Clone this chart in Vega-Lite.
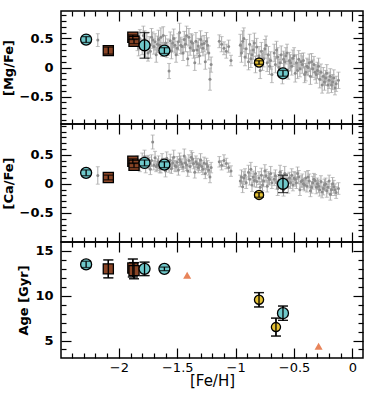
{
  "$schema": "https://vega.github.io/schema/vega-lite/v6.json",
  "padding": {"left": 1, "top": 9, "right": 4, "bottom": 2},
  "background": "white",
  "spacing": 0,
  "bounds": "flush",
  "config": {
    "view": {"stroke": "black", "strokeWidth": 1.5},
    "font": "DejaVu Sans",
    "axis": {"grid": false, "domain": false, "tickColor": "black", "tickWidth": 1.2, "labelColor": "black", "titleColor": "black", "zindex": 1, "labelFont": "DejaVu Sans", "titleFont": "DejaVu Sans"}
  },
  "datasets": {
    "stars": [
      {"fe": -2.18, "mg": 0.47, "emg": 0.11, "ca": 0.145, "eca": 0.15},
      {"fe": -1.84, "mg": 0.42, "emg": 0.13, "ca": 0.38, "eca": 0.10},
      {"fe": -1.83, "mg": 0.33, "emg": 0.13, "ca": 0.33, "eca": 0.10},
      {"fe": -1.82, "mg": 0.50, "emg": 0.15, "ca": 0.30, "eca": 0.09},
      {"fe": -1.80, "mg": 0.35, "emg": 0.13, "ca": 0.42, "eca": 0.11},
      {"fe": -1.79, "mg": 0.55, "emg": 0.16, "ca": 0.34, "eca": 0.08},
      {"fe": -1.78, "mg": 0.48, "emg": 0.15, "ca": 0.47, "eca": 0.11},
      {"fe": -1.77, "mg": 0.30, "emg": 0.12, "ca": 0.28, "eca": 0.09},
      {"fe": -1.76, "mg": 0.45, "emg": 0.14, "ca": 0.37, "eca": 0.10},
      {"fe": -1.75, "mg": 0.25, "emg": 0.14, "ca": 0.39, "eca": 0.10},
      {"fe": -1.74, "mg": 0.40, "emg": 0.13, "ca": 0.36, "eca": 0.10},
      {"fe": -1.73, "mg": 0.28, "emg": 0.12, "ca": 0.25, "eca": 0.09},
      {"fe": -1.72, "mg": 0.52, "emg": 0.15, "ca": 0.40, "eca": 0.10},
      {"fe": -1.71, "mg": 0.47, "emg": 0.14, "ca": 0.72, "eca": 0.12},
      {"fe": -1.70, "mg": 0.36, "emg": 0.13, "ca": 0.32, "eca": 0.08},
      {"fe": -1.69, "mg": 0.44, "emg": 0.14, "ca": 0.45, "eca": 0.11},
      {"fe": -1.68, "mg": 0.22, "emg": 0.13, "ca": 0.30, "eca": 0.09},
      {"fe": -1.67, "mg": 0.40, "emg": 0.14, "ca": 0.33, "eca": 0.10},
      {"fe": -1.66, "mg": 0.48, "emg": 0.16, "ca": 0.38, "eca": 0.10},
      {"fe": -1.65, "mg": 0.38, "emg": 0.13, "ca": 0.27, "eca": 0.08},
      {"fe": -1.64, "mg": 0.52, "emg": 0.16, "ca": 0.28, "eca": 0.09},
      {"fe": -1.63, "mg": 0.31, "emg": 0.12, "ca": 0.42, "eca": 0.10},
      {"fe": -1.62, "mg": 0.55, "emg": 0.15, "ca": 0.35, "eca": 0.09},
      {"fe": -1.60, "mg": 0.42, "emg": 0.13, "ca": 0.22, "eca": 0.10},
      {"fe": -1.59, "mg": 0.30, "emg": 0.13, "ca": 0.44, "eca": 0.11},
      {"fe": -1.58, "mg": 0.35, "emg": 0.14, "ca": 0.33, "eca": 0.09},
      {"fe": -1.57, "mg": -0.06, "emg": 0.13, "ca": 0.30, "eca": 0.10},
      {"fe": -1.56, "mg": 0.46, "emg": 0.15, "ca": 0.40, "eca": 0.11},
      {"fe": -1.55, "mg": 0.28, "emg": 0.13, "ca": 0.26, "eca": 0.08},
      {"fe": -1.54, "mg": 0.42, "emg": 0.14, "ca": 0.36, "eca": 0.10},
      {"fe": -1.53, "mg": 0.50, "emg": 0.16, "ca": 0.46, "eca": 0.12},
      {"fe": -1.52, "mg": 0.38, "emg": 0.13, "ca": 0.31, "eca": 0.09},
      {"fe": -1.51, "mg": 0.22, "emg": 0.13, "ca": 0.30, "eca": 0.09},
      {"fe": -1.50, "mg": 0.33, "emg": 0.12, "ca": 0.37, "eca": 0.10},
      {"fe": -1.49, "mg": 0.44, "emg": 0.14, "ca": 0.24, "eca": 0.09},
      {"fe": -1.48, "mg": 0.60, "emg": 0.16, "ca": 0.42, "eca": 0.11},
      {"fe": -1.47, "mg": 0.38, "emg": 0.14, "ca": 0.38, "eca": 0.10},
      {"fe": -1.46, "mg": 0.36, "emg": 0.13, "ca": 0.34, "eca": 0.09},
      {"fe": -1.45, "mg": 0.25, "emg": 0.13, "ca": 0.29, "eca": 0.08},
      {"fe": -1.44, "mg": 0.48, "emg": 0.14, "ca": 0.48, "eca": 0.12},
      {"fe": -1.43, "mg": 0.40, "emg": 0.13, "ca": 0.36, "eca": 0.10},
      {"fe": -1.42, "mg": 0.55, "emg": 0.16, "ca": 0.33, "eca": 0.10},
      {"fe": -1.41, "mg": 0.15, "emg": 0.12, "ca": 0.22, "eca": 0.09},
      {"fe": -1.40, "mg": 0.52, "emg": 0.15, "ca": 0.40, "eca": 0.10},
      {"fe": -1.39, "mg": 0.34, "emg": 0.13, "ca": 0.30, "eca": 0.10},
      {"fe": -1.38, "mg": 0.44, "emg": 0.14, "ca": 0.46, "eca": 0.11},
      {"fe": -1.37, "mg": 0.42, "emg": 0.14, "ca": 0.43, "eca": 0.11},
      {"fe": -1.36, "mg": 0.29, "emg": 0.13, "ca": 0.35, "eca": 0.09},
      {"fe": -1.35, "mg": 0.08, "emg": 0.13, "ca": 0.20, "eca": 0.10},
      {"fe": -1.34, "mg": 0.45, "emg": 0.15, "ca": 0.38, "eca": 0.10},
      {"fe": -1.33, "mg": 0.30, "emg": 0.13, "ca": 0.34, "eca": 0.10},
      {"fe": -1.32, "mg": 0.37, "emg": 0.13, "ca": 0.28, "eca": 0.09},
      {"fe": -1.31, "mg": 0.20, "emg": 0.14, "ca": 0.33, "eca": 0.10},
      {"fe": -1.30, "mg": 0.48, "emg": 0.15, "ca": 0.41, "eca": 0.11},
      {"fe": -1.29, "mg": 0.40, "emg": 0.14, "ca": 0.30, "eca": 0.10},
      {"fe": -1.28, "mg": 0.33, "emg": 0.13, "ca": 0.25, "eca": 0.09},
      {"fe": -1.27, "mg": 0.41, "emg": 0.14, "ca": 0.36, "eca": 0.10},
      {"fe": -1.26, "mg": 0.10, "emg": 0.13, "ca": 0.18, "eca": 0.09},
      {"fe": -1.25, "mg": 0.45, "emg": 0.15, "ca": 0.34, "eca": 0.10},
      {"fe": -1.24, "mg": 0.38, "emg": 0.13, "ca": 0.30, "eca": 0.10},
      {"fe": -1.23, "mg": 0.25, "emg": 0.12, "ca": 0.24, "eca": 0.09},
      {"fe": -1.22, "mg": -0.20, "emg": 0.19, "ca": 0.12, "eca": 0.10},
      {"fe": -1.21, "mg": 0.05, "emg": 0.13, "ca": 0.28, "eca": 0.09},
      {"fe": -1.14, "mg": 0.45, "emg": 0.11, "ca": 0.38, "eca": 0.09},
      {"fe": -1.12, "mg": 0.40, "emg": 0.13, "ca": 0.32, "eca": 0.08},
      {"fe": -1.10, "mg": 0.33, "emg": 0.11, "ca": 0.40, "eca": 0.10},
      {"fe": -1.08, "mg": 0.28, "emg": 0.12, "ca": 0.35, "eca": 0.09},
      {"fe": -1.06, "mg": 0.36, "emg": 0.11, "ca": 0.28, "eca": 0.08},
      {"fe": -1.04, "mg": 0.12, "emg": 0.09, "ca": 0.22, "eca": 0.09},
      {"fe": -0.96, "mg": 0.38, "emg": 0.19, "ca": 0.05, "eca": 0.10},
      {"fe": -0.95, "mg": 0.25, "emg": 0.16, "ca": 0.12, "eca": 0.12},
      {"fe": -0.94, "mg": 0.45, "emg": 0.18, "ca": -0.05, "eca": 0.10},
      {"fe": -0.93, "mg": 0.50, "emg": 0.18, "ca": 0.10, "eca": 0.11},
      {"fe": -0.92, "mg": 0.18, "emg": 0.15, "ca": 0.15, "eca": 0.11},
      {"fe": -0.91, "mg": 0.32, "emg": 0.16, "ca": 0.02, "eca": 0.10},
      {"fe": -0.89, "mg": 0.10, "emg": 0.14, "ca": 0.20, "eca": 0.12},
      {"fe": -0.88, "mg": 0.40, "emg": 0.17, "ca": 0.08, "eca": 0.10},
      {"fe": -0.87, "mg": 0.15, "emg": 0.15, "ca": 0.25, "eca": 0.12},
      {"fe": -0.86, "mg": 0.22, "emg": 0.15, "ca": -0.02, "eca": 0.11},
      {"fe": -0.85, "mg": 0.30, "emg": 0.16, "ca": 0.12, "eca": 0.10},
      {"fe": -0.84, "mg": 0.42, "emg": 0.17, "ca": 0.06, "eca": 0.11},
      {"fe": -0.83, "mg": 0.05, "emg": 0.14, "ca": 0.18, "eca": 0.12},
      {"fe": -0.82, "mg": 0.35, "emg": 0.15, "ca": 0.04, "eca": 0.10},
      {"fe": -0.80, "mg": 0.20, "emg": 0.16, "ca": 0.10, "eca": 0.11},
      {"fe": -0.79, "mg": -0.05, "emg": 0.14, "ca": -0.06, "eca": 0.10},
      {"fe": -0.78, "mg": 0.28, "emg": 0.15, "ca": 0.15, "eca": 0.12},
      {"fe": -0.77, "mg": 0.10, "emg": 0.15, "ca": -0.02, "eca": 0.10},
      {"fe": -0.76, "mg": 0.15, "emg": 0.14, "ca": 0.05, "eca": 0.10},
      {"fe": -0.75, "mg": 0.32, "emg": 0.16, "ca": 0.22, "eca": 0.11},
      {"fe": -0.74, "mg": 0.38, "emg": 0.16, "ca": 0.14, "eca": 0.11},
      {"fe": -0.73, "mg": 0.08, "emg": 0.15, "ca": -0.04, "eca": 0.10},
      {"fe": -0.72, "mg": 0.22, "emg": 0.14, "ca": 0.10, "eca": 0.11},
      {"fe": -0.71, "mg": 0.02, "emg": 0.14, "ca": 0.08, "eca": 0.10},
      {"fe": -0.70, "mg": 0.12, "emg": 0.15, "ca": 0.18, "eca": 0.12},
      {"fe": -0.69, "mg": -0.12, "emg": 0.14, "ca": 0.02, "eca": 0.10},
      {"fe": -0.67, "mg": 0.25, "emg": 0.15, "ca": 0.08, "eca": 0.11},
      {"fe": -0.66, "mg": 0.05, "emg": 0.14, "ca": 0.14, "eca": 0.10},
      {"fe": -0.65, "mg": 0.30, "emg": 0.15, "ca": 0.02, "eca": 0.11},
      {"fe": -0.64, "mg": 0.18, "emg": 0.16, "ca": -0.08, "eca": 0.12},
      {"fe": -0.63, "mg": 0.00, "emg": 0.14, "ca": 0.06, "eca": 0.10},
      {"fe": -0.62, "mg": 0.08, "emg": 0.14, "ca": 0.20, "eca": 0.12},
      {"fe": -0.61, "mg": 0.22, "emg": 0.15, "ca": 0.12, "eca": 0.11},
      {"fe": -0.60, "mg": -0.15, "emg": 0.13, "ca": 0.00, "eca": 0.10},
      {"fe": -0.59, "mg": 0.14, "emg": 0.14, "ca": -0.10, "eca": 0.11},
      {"fe": -0.58, "mg": 0.10, "emg": 0.15, "ca": 0.18, "eca": 0.12},
      {"fe": -0.57, "mg": 0.20, "emg": 0.14, "ca": 0.05, "eca": 0.10},
      {"fe": -0.56, "mg": 0.25, "emg": 0.15, "ca": 0.08, "eca": 0.10},
      {"fe": -0.55, "mg": -0.05, "emg": 0.15, "ca": -0.05, "eca": 0.11},
      {"fe": -0.54, "mg": 0.12, "emg": 0.14, "ca": 0.10, "eca": 0.10},
      {"fe": -0.53, "mg": 0.08, "emg": 0.14, "ca": 0.02, "eca": 0.10},
      {"fe": -0.52, "mg": 0.02, "emg": 0.15, "ca": 0.15, "eca": 0.11},
      {"fe": -0.51, "mg": 0.16, "emg": 0.14, "ca": -0.02, "eca": 0.10},
      {"fe": -0.50, "mg": 0.20, "emg": 0.14, "ca": 0.10, "eca": 0.11},
      {"fe": -0.49, "mg": -0.10, "emg": 0.15, "ca": 0.08, "eca": 0.12},
      {"fe": -0.48, "mg": 0.08, "emg": 0.14, "ca": 0.02, "eca": 0.10},
      {"fe": -0.47, "mg": -0.05, "emg": 0.14, "ca": 0.18, "eca": 0.11},
      {"fe": -0.46, "mg": 0.14, "emg": 0.15, "ca": 0.12, "eca": 0.11},
      {"fe": -0.45, "mg": -0.02, "emg": 0.14, "ca": -0.10, "eca": 0.10},
      {"fe": -0.44, "mg": 0.10, "emg": 0.14, "ca": 0.04, "eca": 0.10},
      {"fe": -0.43, "mg": 0.05, "emg": 0.15, "ca": 0.06, "eca": 0.11},
      {"fe": -0.42, "mg": 0.12, "emg": 0.13, "ca": 0.00, "eca": 0.10},
      {"fe": -0.41, "mg": -0.12, "emg": 0.14, "ca": -0.02, "eca": 0.10},
      {"fe": -0.40, "mg": -0.08, "emg": 0.15, "ca": 0.10, "eca": 0.11},
      {"fe": -0.39, "mg": 0.02, "emg": 0.14, "ca": -0.04, "eca": 0.10},
      {"fe": -0.38, "mg": 0.00, "emg": 0.14, "ca": 0.12, "eca": 0.11},
      {"fe": -0.37, "mg": 0.08, "emg": 0.15, "ca": 0.05, "eca": 0.12},
      {"fe": -0.36, "mg": -0.15, "emg": 0.14, "ca": -0.12, "eca": 0.10},
      {"fe": -0.35, "mg": 0.10, "emg": 0.14, "ca": -0.06, "eca": 0.10},
      {"fe": -0.34, "mg": -0.02, "emg": 0.15, "ca": 0.02, "eca": 0.11},
      {"fe": -0.33, "mg": 0.05, "emg": 0.14, "ca": 0.08, "eca": 0.10},
      {"fe": -0.32, "mg": -0.08, "emg": 0.13, "ca": 0.06, "eca": 0.10},
      {"fe": -0.31, "mg": -0.12, "emg": 0.15, "ca": -0.06, "eca": 0.11},
      {"fe": -0.30, "mg": -0.05, "emg": 0.14, "ca": 0.00, "eca": 0.10},
      {"fe": -0.29, "mg": 0.02, "emg": 0.14, "ca": -0.04, "eca": 0.11},
      {"fe": -0.28, "mg": -0.20, "emg": 0.15, "ca": -0.10, "eca": 0.11},
      {"fe": -0.27, "mg": -0.08, "emg": 0.14, "ca": 0.04, "eca": 0.10},
      {"fe": -0.26, "mg": -0.30, "emg": 0.14, "ca": -0.14, "eca": 0.10},
      {"fe": -0.25, "mg": -0.15, "emg": 0.15, "ca": -0.08, "eca": 0.11},
      {"fe": -0.24, "mg": -0.25, "emg": 0.14, "ca": -0.02, "eca": 0.10},
      {"fe": -0.23, "mg": -0.18, "emg": 0.13, "ca": 0.00, "eca": 0.10},
      {"fe": -0.22, "mg": -0.10, "emg": 0.15, "ca": -0.12, "eca": 0.11},
      {"fe": -0.21, "mg": -0.30, "emg": 0.14, "ca": -0.06, "eca": 0.10},
      {"fe": -0.20, "mg": -0.22, "emg": 0.14, "ca": 0.05, "eca": 0.10},
      {"fe": -0.19, "mg": -0.15, "emg": 0.13, "ca": -0.18, "eca": 0.10},
      {"fe": -0.18, "mg": -0.30, "emg": 0.13, "ca": -0.10, "eca": 0.10},
      {"fe": -0.17, "mg": -0.25, "emg": 0.13, "ca": 0.00, "eca": 0.11},
      {"fe": -0.16, "mg": -0.18, "emg": 0.14, "ca": -0.05, "eca": 0.11},
      {"fe": -0.15, "mg": -0.35, "emg": 0.12, "ca": -0.10, "eca": 0.10},
      {"fe": -0.14, "mg": -0.28, "emg": 0.13, "ca": -0.15, "eca": 0.10},
      {"fe": -0.12, "mg": -0.22, "emg": 0.14, "ca": -0.08, "eca": 0.10}
    ],
    "hl": [
      {"kind": "cyan", "fe": -2.28, "mg": 0.48, "emg": 0.05, "ca": 0.19, "eca": 0.05, "age": 13.5, "eage": 0.35},
      {"kind": "brown", "fe": -2.09, "mg": 0.29, "emg": 0.06, "ca": 0.11, "eca": 0.04, "age": 13.0, "eage": 1.0},
      {"kind": "brown", "fe": -1.88, "mg": 0.52, "emg": 0.04, "ca": 0.39, "eca": 0.04, "age": 13.1, "eage": 1.0},
      {"kind": "brown", "fe": -1.87, "mg": 0.45, "emg": 0.04, "ca": 0.32, "eca": 0.04, "age": 12.8, "eage": 0.9},
      {"kind": "cyan", "fe": -1.78, "mg": 0.38, "emg": 0.22, "ca": 0.36, "eca": 0.05, "age": 13.0, "eage": 0.75},
      {"kind": "cyan", "fe": -1.61, "mg": 0.29, "emg": 0.05, "ca": 0.33, "eca": 0.05, "age": 13.0, "eage": 0.2},
      {"kind": "orange", "fe": -1.415, "mg": null, "emg": null, "ca": null, "eca": null, "age": 12.3, "eage": null},
      {"kind": "yellow", "fe": -0.80, "mg": 0.085, "emg": 0.03, "ca": -0.19, "eca": 0.04, "age": 9.55, "eage": 0.8},
      {"kind": "yellow", "fe": -0.655, "mg": null, "emg": null, "ca": null, "eca": null, "age": 6.5, "eage": 1.0},
      {"kind": "cyan", "fe": -0.595, "mg": -0.10, "emg": 0.05, "ca": 0.0, "eca": 0.15, "age": 8.05, "eage": 0.8},
      {"kind": "orange", "fe": -0.29, "mg": null, "emg": null, "ca": null, "eca": null, "age": 4.35, "eage": null}
    ]
  },
  "vconcat": [
    {
      "width": 302, "height": 113,
      "resolve": {"axis": {"x": "independent", "y": "independent"}},
      "layer": [
        {
          "data": {"name": "stars"},
          "mark": {"type": "errorbar", "ticks": {"size": 4}, "color": "#a8a8a8", "thickness": 1},
          "encoding": {
            "x": {"field": "fe", "type": "quantitative", "scale": {"domain": [-2.495, 0.09], "nice": false, "zero": false},
              "axis": {"orient": "bottom", "values": [-2, -1.5, -1, -0.5, 0], "tickSize": 10, "offset": -10, "labels": false, "title": null}},
            "y": {"field": "mg", "type": "quantitative", "scale": {"domain": [-0.97, 0.97], "nice": false, "zero": false},
              "axis": {"orient": "left", "values": [-0.5, 0, 0.5], "tickSize": 10, "offset": -10,
                "labelExpr": "format(datum.value, '.2~f')",
                "labelPadding": 8, "labelFontSize": 13, "labelFontWeight": "bold",
                "title": "[Mg/Fe]", "titleFontSize": 13, "titleFontWeight": "bold", "titlePadding": 4}},
            "yError": {"field": "emg"}
          }
        },
        {
          "data": {"name": "stars"},
          "mark": {"type": "point", "filled": true, "size": 9, "color": "#8c8c8c", "opacity": 1},
          "encoding": {
            "x": {"field": "fe", "type": "quantitative",
              "axis": {"orient": "top", "values": [-2, -1.5, -1, -0.5, 0], "tickSize": 10, "offset": -10, "labels": false, "title": null}},
            "y": {"field": "mg", "type": "quantitative",
              "axis": {"orient": "right", "values": [-0.5, 0, 0.5], "tickSize": 10, "offset": -10, "labels": false, "title": null}}
          }
        },
        {
          "data": {"name": "hl"},
          "transform": [{"filter": "isValid(datum.mg)"}],
          "mark": {"type": "point", "filled": true, "stroke": "black", "strokeWidth": 1.3, "opacity": 1},
          "encoding": {
            "x": {"field": "fe", "type": "quantitative",
              "axis": {"orient": "bottom", "values": [-2.4,-2.3,-2.2,-2.1,-1.9,-1.8,-1.7,-1.6,-1.4,-1.3,-1.2,-1.1,-0.9,-0.8,-0.7,-0.6,-0.4,-0.3,-0.2,-0.1], "tickSize": 5, "offset": -5, "labels": false, "title": null}},
            "y": {"field": "mg", "type": "quantitative",
              "axis": {"orient": "left", "values": [-0.9,-0.8,-0.7,-0.6,-0.4,-0.3,-0.2,-0.1,0.1,0.2,0.3,0.4,0.6,0.7,0.8,0.9], "tickSize": 5, "offset": -5, "labels": false, "title": null}},
            "fill": {"field": "kind", "type": "nominal", "legend": null, "scale": {"domain": ["cyan", "brown", "yellow", "orange"], "range": ["#6fc8ca", "#8a4526", "#e5c132", "#e8845a"]}},
            "shape": {"field": "kind", "type": "nominal", "legend": null, "scale": {"domain": ["cyan", "brown", "yellow", "orange"], "range": ["circle", "square", "circle", "triangle-up"]}},
            "size": {"field": "kind", "type": "nominal", "legend": null, "scale": {"domain": ["cyan", "brown", "yellow", "orange"], "range": [121, 65, 110, 70]}}
          }
        },
        {
          "data": {"name": "hl"},
          "transform": [{"filter": "isValid(datum.mg)"}],
          "mark": {"type": "errorbar", "ticks": {"size": 10}, "color": "black", "thickness": 1.3},
          "encoding": {
            "x": {"field": "fe", "type": "quantitative",
              "axis": {"orient": "top", "values": [-2.4,-2.3,-2.2,-2.1,-1.9,-1.8,-1.7,-1.6,-1.4,-1.3,-1.2,-1.1,-0.9,-0.8,-0.7,-0.6,-0.4,-0.3,-0.2,-0.1], "tickSize": 5, "offset": -5, "labels": false, "title": null}},
            "y": {"field": "mg", "type": "quantitative",
              "axis": {"orient": "right", "values": [-0.9,-0.8,-0.7,-0.6,-0.4,-0.3,-0.2,-0.1,0.1,0.2,0.3,0.4,0.6,0.7,0.8,0.9], "tickSize": 5, "offset": -5, "labels": false, "title": null}},
            "yError": {"field": "emg"}
          }
        }
      ]
    },
    {
      "width": 302, "height": 118,
      "resolve": {"axis": {"x": "independent", "y": "independent"}},
      "layer": [
        {
          "data": {"name": "stars"},
          "mark": {"type": "errorbar", "ticks": {"size": 4}, "color": "#a8a8a8", "thickness": 1},
          "encoding": {
            "x": {"field": "fe", "type": "quantitative", "scale": {"domain": [-2.495, 0.09], "nice": false, "zero": false},
              "axis": {"orient": "bottom", "values": [-2, -1.5, -1, -0.5, 0], "tickSize": 10, "offset": -10, "labels": false, "title": null}},
            "y": {"field": "ca", "type": "quantitative", "scale": {"domain": [-1.0, 1.03], "nice": false, "zero": false},
              "axis": {"orient": "left", "values": [-0.5, 0, 0.5], "tickSize": 10, "offset": -10,
                "labelExpr": "format(datum.value, '.2~f')",
                "labelPadding": 8, "labelFontSize": 13, "labelFontWeight": "bold",
                "title": "[Ca/Fe]", "titleFontSize": 13, "titleFontWeight": "bold", "titlePadding": 4}},
            "yError": {"field": "eca"}
          }
        },
        {
          "data": {"name": "stars"},
          "mark": {"type": "point", "filled": true, "size": 9, "color": "#8c8c8c", "opacity": 1},
          "encoding": {
            "x": {"field": "fe", "type": "quantitative",
              "axis": {"orient": "top", "values": [-2, -1.5, -1, -0.5, 0], "tickSize": 10, "offset": -10, "labels": false, "title": null}},
            "y": {"field": "ca", "type": "quantitative",
              "axis": {"orient": "right", "values": [-0.5, 0, 0.5], "tickSize": 10, "offset": -10, "labels": false, "title": null}}
          }
        },
        {
          "data": {"name": "hl"},
          "transform": [{"filter": "isValid(datum.ca)"}],
          "mark": {"type": "point", "filled": true, "stroke": "black", "strokeWidth": 1.3, "opacity": 1},
          "encoding": {
            "x": {"field": "fe", "type": "quantitative",
              "axis": {"orient": "bottom", "values": [-2.4,-2.3,-2.2,-2.1,-1.9,-1.8,-1.7,-1.6,-1.4,-1.3,-1.2,-1.1,-0.9,-0.8,-0.7,-0.6,-0.4,-0.3,-0.2,-0.1], "tickSize": 5, "offset": -5, "labels": false, "title": null}},
            "y": {"field": "ca", "type": "quantitative",
              "axis": {"orient": "left", "values": [-0.9,-0.8,-0.7,-0.6,-0.4,-0.3,-0.2,-0.1,0.1,0.2,0.3,0.4,0.6,0.7,0.8,0.9,1.0], "tickSize": 5, "offset": -5, "labels": false, "title": null}},
            "fill": {"field": "kind", "type": "nominal", "legend": null, "scale": {"domain": ["cyan", "brown", "yellow", "orange"], "range": ["#6fc8ca", "#8a4526", "#e5c132", "#e8845a"]}},
            "shape": {"field": "kind", "type": "nominal", "legend": null, "scale": {"domain": ["cyan", "brown", "yellow", "orange"], "range": ["circle", "square", "circle", "triangle-up"]}},
            "size": {"field": "kind", "type": "nominal", "legend": null, "scale": {"domain": ["cyan", "brown", "yellow", "orange"], "range": [121, 65, 110, 70]}}
          }
        },
        {
          "data": {"name": "hl"},
          "transform": [{"filter": "isValid(datum.ca)"}],
          "mark": {"type": "errorbar", "ticks": {"size": 10}, "color": "black", "thickness": 1.3},
          "encoding": {
            "x": {"field": "fe", "type": "quantitative",
              "axis": {"orient": "top", "values": [-2.4,-2.3,-2.2,-2.1,-1.9,-1.8,-1.7,-1.6,-1.4,-1.3,-1.2,-1.1,-0.9,-0.8,-0.7,-0.6,-0.4,-0.3,-0.2,-0.1], "tickSize": 5, "offset": -5, "labels": false, "title": null}},
            "y": {"field": "ca", "type": "quantitative",
              "axis": {"orient": "right", "values": [-0.9,-0.8,-0.7,-0.6,-0.4,-0.3,-0.2,-0.1,0.1,0.2,0.3,0.4,0.6,0.7,0.8,0.9,1.0], "tickSize": 5, "offset": -5, "labels": false, "title": null}},
            "yError": {"field": "eca"}
          }
        }
      ]
    },
    {
      "width": 302, "height": 116,
      "resolve": {"axis": {"x": "independent", "y": "independent"}},
      "layer": [
        {
          "data": {"name": "hl"},
          "transform": [{"filter": "isValid(datum.eage)"}],
          "mark": {"type": "errorbar", "ticks": {"size": 10}, "color": "black", "thickness": 1.3},
          "encoding": {
            "x": {"field": "fe", "type": "quantitative", "scale": {"domain": [-2.495, 0.09], "nice": false, "zero": false},
              "axis": {"orient": "bottom", "values": [-2, -1.5, -1, -0.5, 0], "tickSize": 10, "offset": -10,
                "labelExpr": "format(datum.value, '.2~f')",
                "labelPadding": 3, "labelFontSize": 13,
                "title": "[Fe/H]", "titleFontSize": 15, "titleFontWeight": "normal", "titlePadding": -1}},
            "y": {"field": "age", "type": "quantitative", "scale": {"domain": [3.05, 16], "nice": false, "zero": false},
              "axis": {"orient": "left", "values": [5, 10, 15], "tickSize": 10, "offset": -10,
                "labelPadding": 8, "labelFontSize": 13, "labelFontWeight": "bold",
                "title": "Age [Gyr]", "titleFontSize": 13, "titleFontWeight": "bold", "titlePadding": 4}},
            "yError": {"field": "eage"}
          }
        },
        {
          "data": {"name": "hl"},
          "mark": {"type": "point", "filled": true, "stroke": "black", "opacity": 1},
          "encoding": {
            "x": {"field": "fe", "type": "quantitative",
              "axis": {"orient": "top", "values": [-2, -1.5, -1, -0.5, 0], "tickSize": 10, "offset": -10, "labels": false, "title": null}},
            "y": {"field": "age", "type": "quantitative",
              "axis": {"orient": "right", "values": [5, 10, 15], "tickSize": 10, "offset": -10, "labels": false, "title": null}},
            "fill": {"field": "kind", "type": "nominal", "legend": null, "scale": {"domain": ["cyan", "brown", "yellow", "orange"], "range": ["#6fc8ca", "#8a4526", "#e5c132", "#e8845a"]}},
            "shape": {"field": "kind", "type": "nominal", "legend": null, "scale": {"domain": ["cyan", "brown", "yellow", "orange"], "range": ["circle", "square", "circle", "triangle-up"]}},
            "size": {"field": "kind", "type": "nominal", "legend": null, "scale": {"domain": ["cyan", "brown", "yellow", "orange"], "range": [121, 65, 110, 70]}},
            "strokeWidth": {"condition": {"test": "datum.kind == 'orange'", "value": 0}, "value": 1.3}
          }
        },
        {
          "data": {"name": "hl"},
          "transform": [{"filter": "isValid(datum.eage)"}],
          "mark": {"type": "errorbar", "ticks": {"size": 10}, "color": "black", "thickness": 1.3},
          "encoding": {
            "x": {"field": "fe", "type": "quantitative",
              "axis": {"orient": "bottom", "values": [-2.4,-2.3,-2.2,-2.1,-1.9,-1.8,-1.7,-1.6,-1.4,-1.3,-1.2,-1.1,-0.9,-0.8,-0.7,-0.6,-0.4,-0.3,-0.2,-0.1], "tickSize": 5, "offset": -5, "labels": false, "title": null}},
            "y": {"field": "age", "type": "quantitative",
              "axis": {"orient": "left", "values": [4,6,7,8,9,11,12,13,14], "tickSize": 5, "offset": -5, "labels": false, "title": null}},
            "yError": {"field": "eage"}
          }
        },
        {
          "data": {"name": "hl"},
          "mark": {"type": "point", "opacity": 0},
          "encoding": {
            "x": {"field": "fe", "type": "quantitative",
              "axis": {"orient": "top", "values": [-2.4,-2.3,-2.2,-2.1,-1.9,-1.8,-1.7,-1.6,-1.4,-1.3,-1.2,-1.1,-0.9,-0.8,-0.7,-0.6,-0.4,-0.3,-0.2,-0.1], "tickSize": 5, "offset": -5, "labels": false, "title": null}},
            "y": {"field": "age", "type": "quantitative",
              "axis": {"orient": "right", "values": [4,6,7,8,9,11,12,13,14], "tickSize": 5, "offset": -5, "labels": false, "title": null}}
          }
        }
      ]
    }
  ]
}
